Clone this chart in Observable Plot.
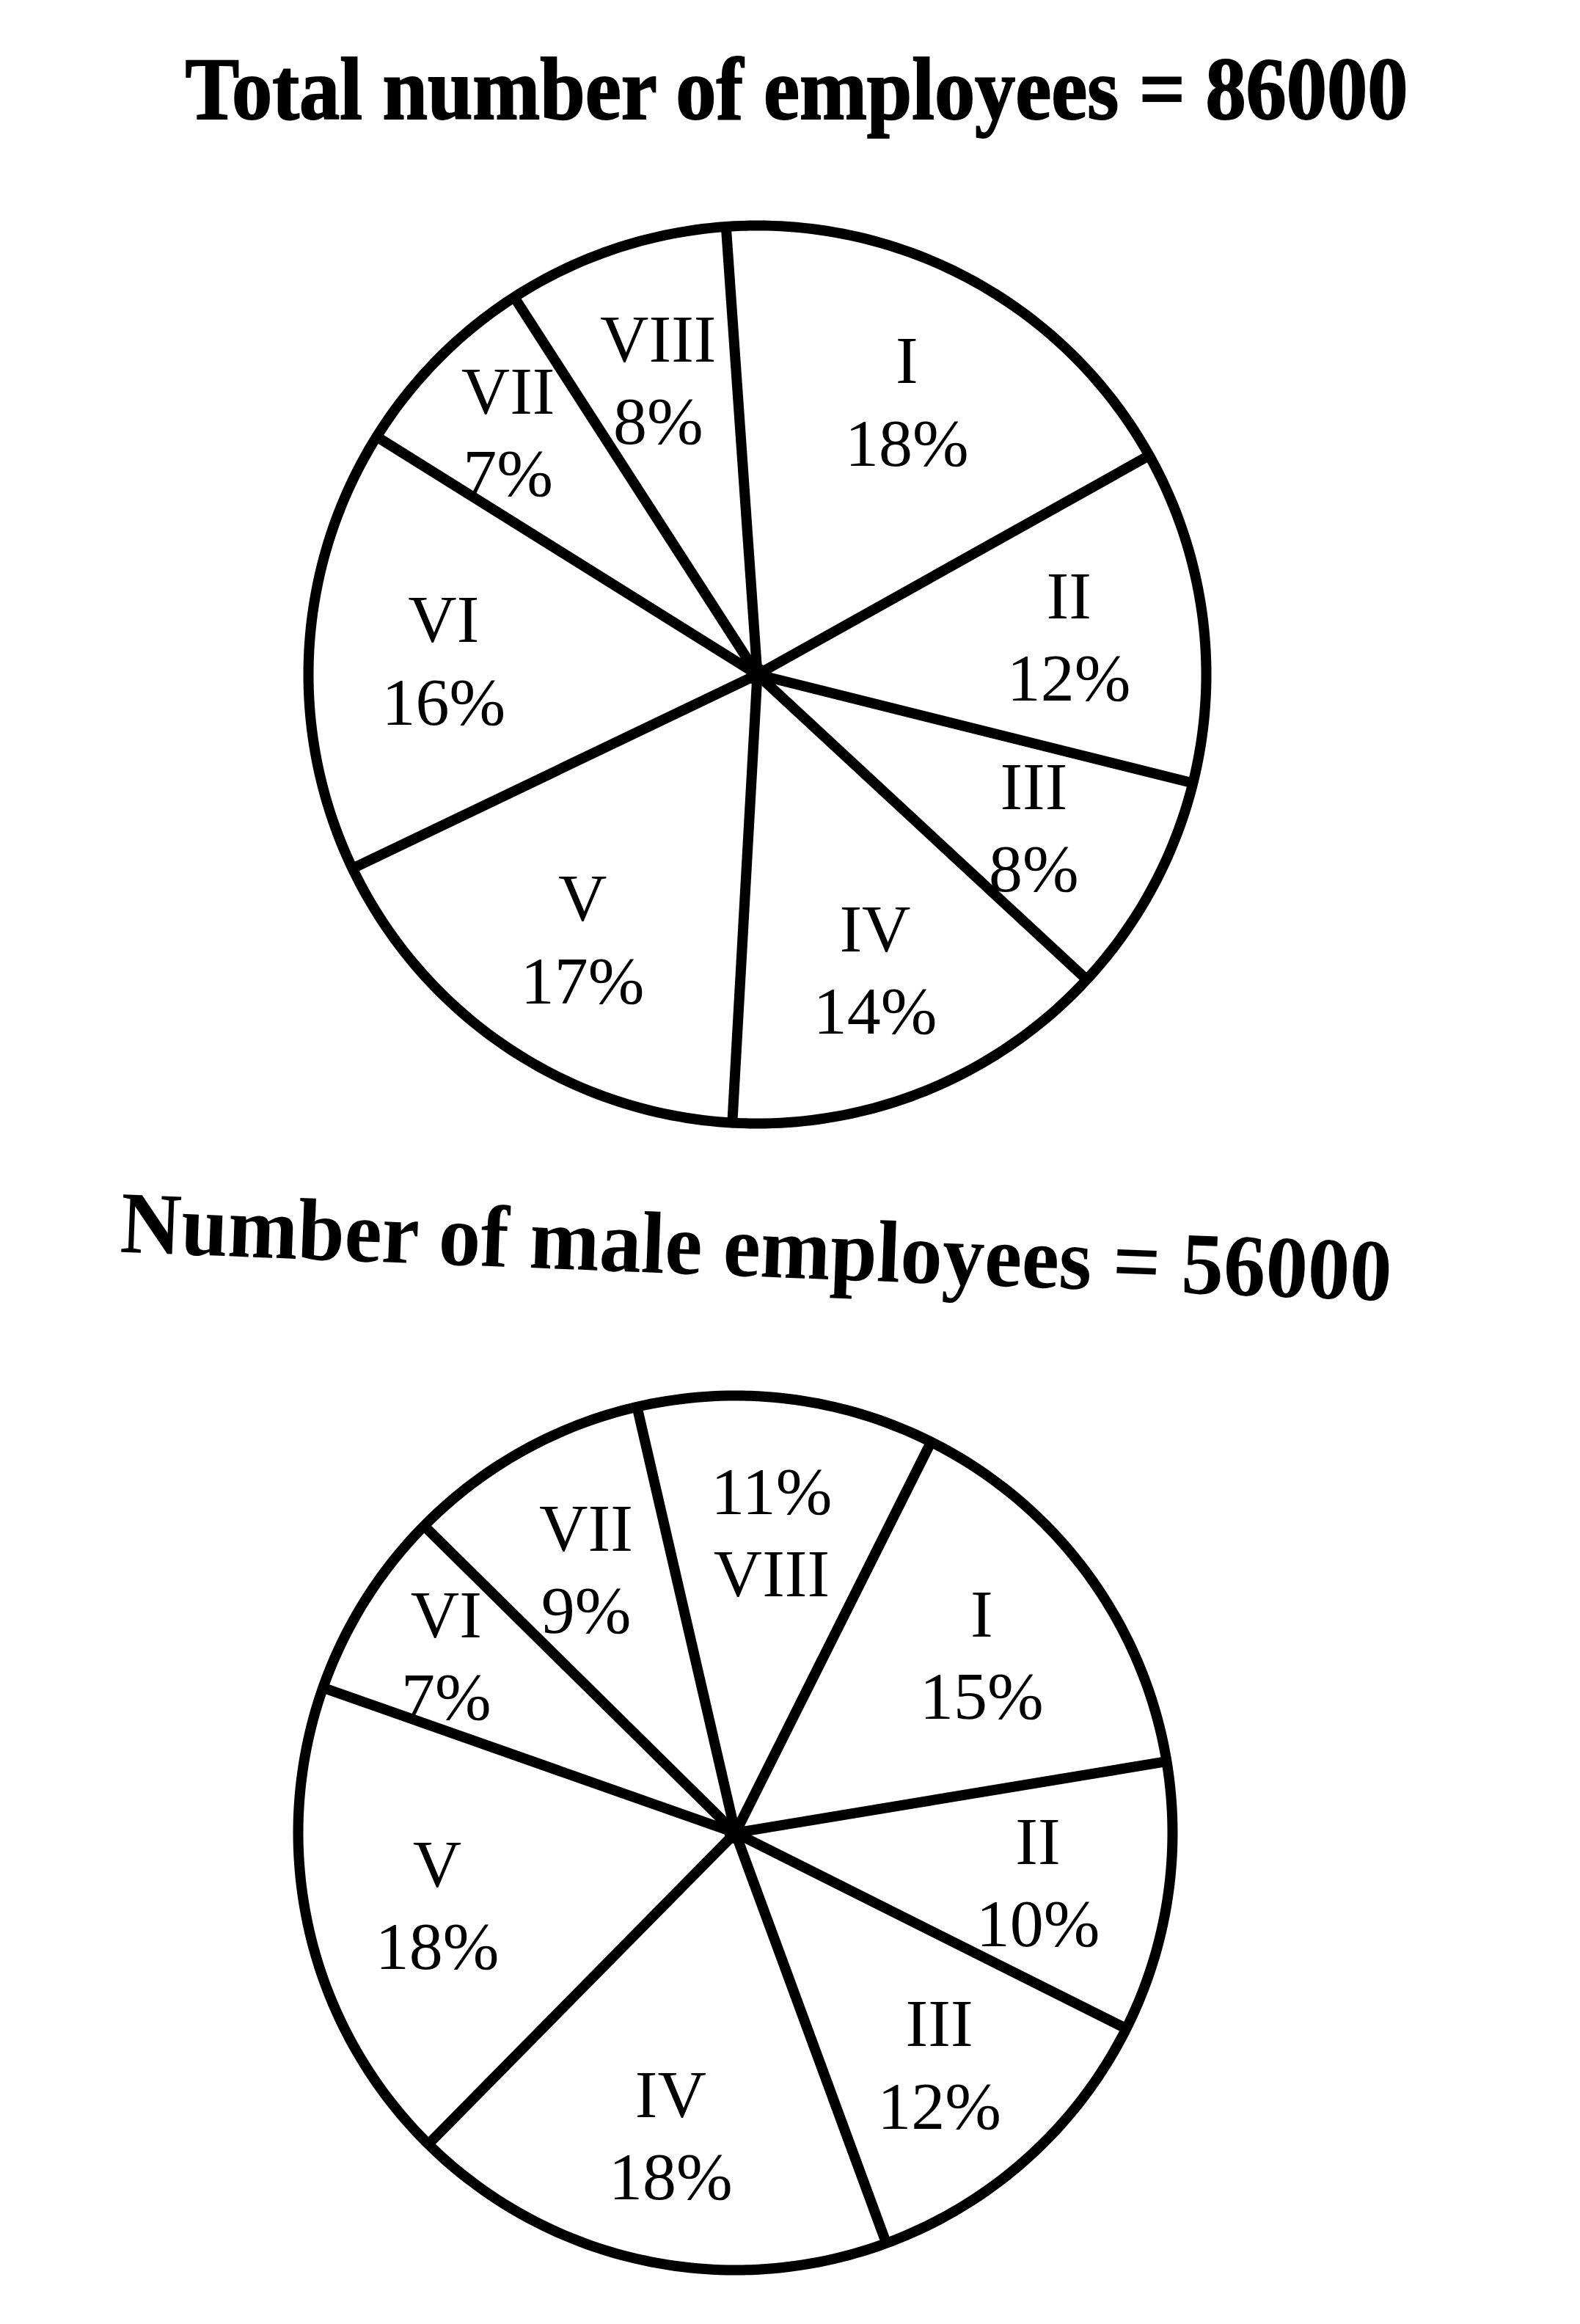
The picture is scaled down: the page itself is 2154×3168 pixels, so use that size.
<!DOCTYPE html>
<html>
<head>
<meta charset="utf-8">
<script src="https://cdn.jsdelivr.net/npm/d3@7"></script>
<script src="https://cdn.jsdelivr.net/npm/@observablehq/plot@0.6"></script>
<style>
  html, body { margin: 0; padding: 0; background: #fff; }
  #page { position: relative; width: 2154px; height: 3168px; overflow: hidden; background: #fff; }
  .title { position: absolute; white-space: nowrap; font-family: "Liberation Serif", "Times New Roman", serif;
           font-weight: bold; color: #000; line-height: 1; font-size: 120px; }
  .chart { position: absolute; left: 0; }
</style>
</head>
<body>
<div id="page">
  <div id="chart1" class="chart" style="top:230px"></div>
  <div id="chart2" class="chart" style="top:1850px"></div>
  <div id="title1" class="title"></div>
  <div id="title2" class="title"></div>
</div>
<script>
// ---- data ----
const segments = ["I", "II", "III", "IV", "V", "VI", "VII", "VIII"];
const totalShares = [18, 12, 8, 14, 17, 16, 7, 8];     // % of all employees
const maleShares  = [15, 10, 12, 18, 18, 7, 9, 11];    // % of male employees
const totalTitle = "Total number of employees = 86000";
const maleTitle  = "Number of male employees = 56000";
const maleFlipped = ["VIII"];                            // label printed as "11% / VIII"

// ---- titles ----
const t1 = document.getElementById("title1");
t1.textContent = totalTitle;
t1.style.left = "1086px";
t1.style.top = "62px";
t1.style.webkitTextStroke = "2px #000";
t1.style.transform = "translateX(-50%) scaleX(0.92)";

const t2 = document.getElementById("title2");
t2.textContent = maleTitle;
t2.style.left = "1031px";
t2.style.top = "1640px";
t2.style.transform = "translateX(-50%) rotate(2.2deg) scaleX(0.955)";

// ---- pie helper ----
function pieChart(shares, startDeg, flipped, R, cx, cy, W, H) {
  const rows = segments.map((name, i) => ({name, share: shares[i]}));
  const a0 = startDeg * Math.PI / 180;
  const arcs = d3.pie().sort(null).value(d => d.share).startAngle(a0).endAngle(a0 + 2 * Math.PI)(rows);
  const slices = arcs.map(a => ({
    name: a.data.name, share: a.data.share,
    start: a.startAngle, mid: (a.startAngle + a.endAngle) / 2,
    k: a.data.share < 8 ? 0.78 : 0.70          // narrow slices: label sits further out
  }));
  const ring = d3.range(0, 361).map(t => t * Math.PI / 180);
  return Plot.plot({
    width: W, height: H, margin: 0,
    x: {domain: [-1, 1], range: [cx - R, cx + R], axis: null},
    y: {domain: [-1, 1], range: [cy + R, cy - R], axis: null},
    style: {background: "transparent"},
    marks: [
      Plot.line(ring, {x: t => Math.sin(t), y: t => Math.cos(t), stroke: "#000", strokeWidth: 14}),
      Plot.link(slices, {x1: 0, y1: 0, x2: d => Math.sin(d.start), y2: d => Math.cos(d.start),
                         stroke: "#000", strokeWidth: 14}),
      Plot.dot([0], {x: 0, y: 0, r: 15, fill: "#000"}),
      Plot.text(slices, {
        x: d => d.k * Math.sin(d.mid), y: d => d.k * Math.cos(d.mid),
        text: d => flipped.includes(d.name) ? `${d.share}%\n${d.name}` : `${d.name}\n${d.share}%`,
        fontSize: 92, fontFamily: "Liberation Serif", lineHeight: 1.22, fill: "#000"
      })
    ]
  });
}

document.getElementById("chart1").append(pieChart(totalShares, -4, [], 612, 1032, 689, 2154, 1360));
document.getElementById("chart2").append(pieChart(maleShares, 26.6, maleFlipped, 596, 1002, 648, 2154, 1318));
</script>
</body>
</html>
